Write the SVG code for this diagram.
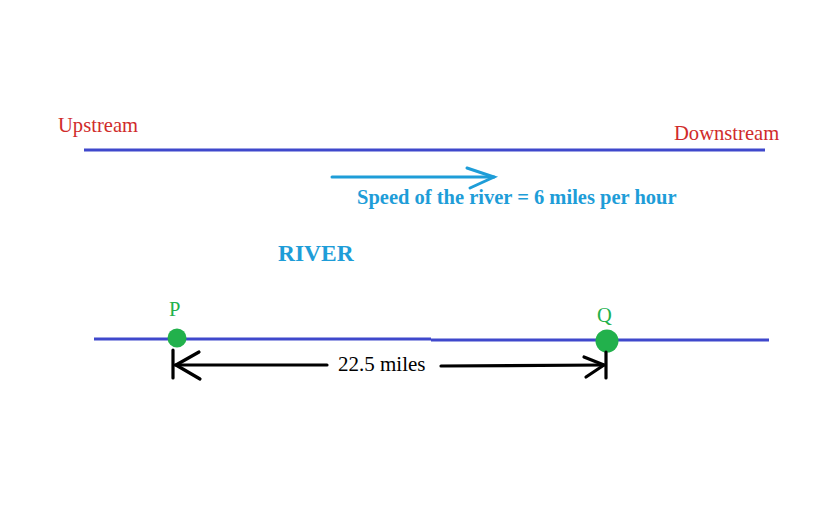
<svg xmlns="http://www.w3.org/2000/svg" width="818" height="509" viewBox="0 0 818 509">
<style>
.lbl{font-family:"Liberation Serif","Times New Roman",serif;}
.red{fill:#d02b2b;font-size:20.6px;}
.cy{fill:#1e9dd8;font-size:20.5px;font-weight:bold;}
.grn{fill:#22b14c;font-size:20.5px;}
.bank{stroke:#3f48cc;stroke-width:3;fill:none;}
.blk{stroke:#000;stroke-width:3.2;fill:none;stroke-linecap:round;stroke-linejoin:round;}
</style>
<rect width="818" height="509" fill="#fff"/>
<g id="banks">
<line class="bank" x1="84" y1="150" x2="765" y2="150"/>
<line class="bank" x1="94" y1="339" x2="431" y2="339"/>
<line class="bank" x1="431" y1="340" x2="769" y2="340"/>
</g>
<g id="upstream"><text class="lbl red" x="58" y="132">Upstream</text></g>
<g id="downstream"><text class="lbl red" x="674" y="140">Downstream</text></g>
<g id="river-label"><text class="lbl cy" x="278" y="261" style="font-size:23.5px">RIVER</text></g>
<g id="speed"><text class="lbl cy" x="357" y="204">Speed of the river = 6 miles per hour</text></g>
<g id="P">
<text class="lbl grn" x="169" y="316">P</text>
<circle cx="177" cy="338" r="9.5" fill="#22b14c"/>
</g>
<g id="Q">
<text class="lbl grn" x="597" y="322">Q</text>
<circle cx="607" cy="341" r="11.5" fill="#22b14c"/>
</g>
<g id="connectors">
<g stroke="#1e9dd8" stroke-width="3" fill="none" stroke-linecap="round">
<line x1="332" y1="177" x2="494" y2="177"/>
<polyline points="467,168 494,177 470,188"/>
</g>
<line class="blk" x1="175" y1="365" x2="327" y2="365"/>
<line class="blk" x1="441" y1="366" x2="604" y2="365"/>
<line class="blk" x1="173" y1="350" x2="173" y2="378"/>
<polyline class="blk" points="199,352 176,365 200,379"/>
<line class="blk" x1="606" y1="352" x2="606" y2="378"/>
<polyline class="blk" points="584,357 604,365 586,377"/>
<text class="lbl" x="338" y="371" font-size="21" fill="#000">22.5 miles</text>
</g>
</svg>
